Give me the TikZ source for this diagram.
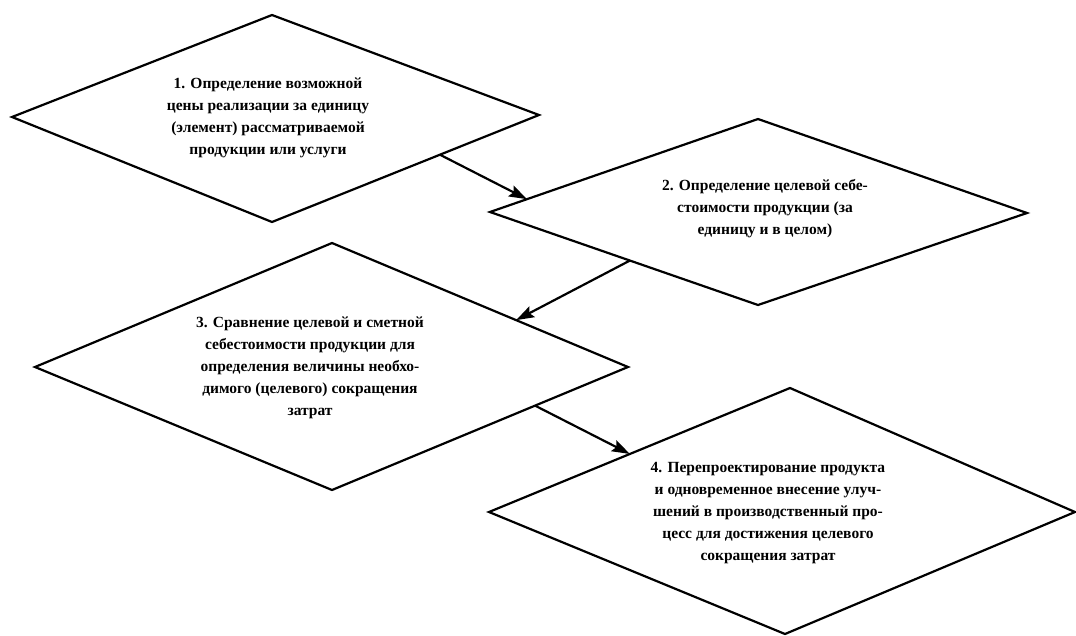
\documentclass[tikz,border=0pt]{standalone}
\usepackage{fontspec}
\setmainfont{Liberation Serif}
\usetikzlibrary{calc,arrows.meta}
\begin{document}
\begin{tikzpicture}[x=1pt,y=-1pt,
  dia/.style={draw=black,line width=2.2pt,line join=miter},
  txt/.style={align=center,inner sep=0pt,font=\fontsize{15.5}{22}\selectfont\bfseries},
  arr/.style={line width=2.2pt,-{Stealth[length=18pt,width=12pt,inset=3pt]}}]
\useasboundingbox (0,0) rectangle (1076,635);
% diamond 1
\coordinate (d1t) at (272,15);
\coordinate (d1l) at (12,117);
\coordinate (d1b) at (272,222);
\coordinate (d1r) at (539,115);
% diamond 2
\coordinate (d2t) at (758,119);
\coordinate (d2l) at (490,212);
\coordinate (d2b) at (758,305);
\coordinate (d2r) at (1027,213);
% diamond 3
\coordinate (d3t) at (332,243);
\coordinate (d3l) at (35,367);
\coordinate (d3b) at (332,490);
\coordinate (d3r) at (628,367);
% diamond 4
\coordinate (d4t) at (790,388);
\coordinate (d4l) at (489,512);
\coordinate (d4b) at (785,634);
\coordinate (d4r) at (1075,512);
\draw[dia] (d1t) -- (d1r) -- (d1b) -- (d1l) -- cycle;
\draw[dia] (d2t) -- (d2r) -- (d2b) -- (d2l) -- cycle;
\draw[dia] (d3t) -- (d3r) -- (d3b) -- (d3l) -- cycle;
\draw[dia] (d4t) -- (d4r) -- (d4b) -- (d4l) -- cycle;
\node[txt] (t1) at (268,118) {1. Определение возможной\\цены реализации за единицу\\(элемент) рассматриваемой\\продукции или услуги};
\node[txt] (t2) at (765,209) {2. Определение целевой себе-\\стоимости продукции (за\\единицу и в целом)};
\node[txt] (t3) at (310,368) {3. Сравнение целевой и сметной\\себестоимости продукции для\\определения величины необхо-\\димого (целевого) сокращения\\затрат};
\node[txt] (t4) at (768,513) {4. Перепроектирование продукта\\и одновременное внесение улуч-\\шений в производственный про-\\цесс для достижения целевого\\сокращения затрат};
% connectors
\coordinate (a1s) at ($(d1r)!0.371!(d1b)$);
\coordinate (a1e) at ($(d2l)!0.138!(d2t)$);
\coordinate (a2s) at ($(d2l)!0.522!(d2b)$);
\coordinate (a2e) at ($(d3t)!0.622!(d3r)$);
\coordinate (a3s) at ($(d3r)!0.314!(d3b)$);
\coordinate (a3e) at ($(d4l)!0.468!(d4t)$);
\draw[arr] (a1s) -- (a1e);
\draw[arr] (a2s) -- (a2e);
\draw[arr] (a3s) -- (a3e);
\end{tikzpicture}
\end{document}
